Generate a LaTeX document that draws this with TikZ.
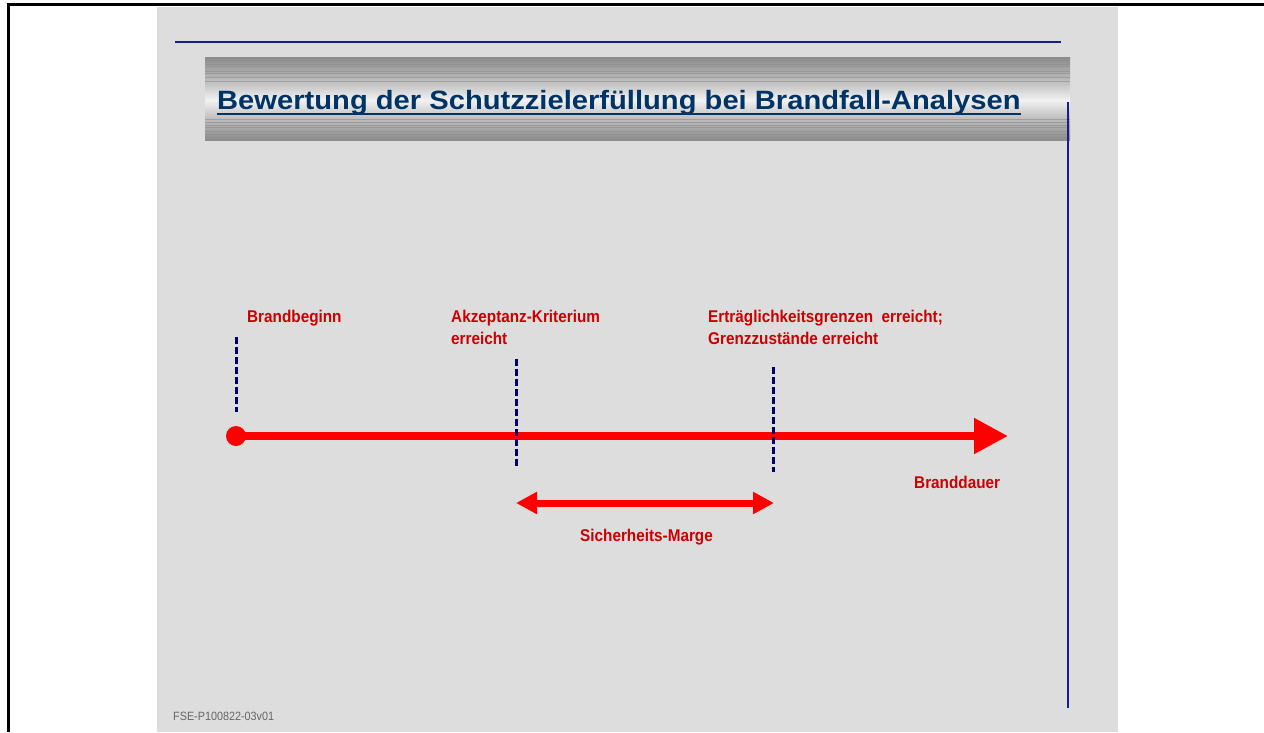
\documentclass[tikz,border=0pt]{standalone}
\usepackage{fontspec}
\setmainfont{Liberation Sans}
\newfontfamily\labelfont[FakeStretch=0.9]{Liberation Sans}
\newfontfamily\titlefont[FakeStretch=1.1]{Liberation Sans}
\usetikzlibrary{arrows.meta}
\definecolor{panelgray}{HTML}{DDDDDD}
\definecolor{bandgray}{HTML}{8C8C8C}
\definecolor{bandmid}{HTML}{C4C4C4}
\definecolor{bandlight}{HTML}{F2F2F2}
\definecolor{rulenavy}{HTML}{1C1C8C}
\definecolor{marknavy}{HTML}{000066}
\definecolor{titleblue}{HTML}{003366}
\definecolor{labelred}{HTML}{CC0000}
\definecolor{arrowred}{HTML}{FF0000}
\definecolor{codegray}{HTML}{666666}
\tikzset{
  lbl/.style={text=labelred, font=\labelfont\bfseries\fontsize{17}{22}\selectfont,
    anchor=base west, inner sep=0pt, align=left},
  marker/.style={draw=marknavy, line width=3pt, dash pattern=on 6.5pt off 3.5pt},
  rule/.style={draw=rulenavy, line width=1.5pt},
  bandline/.style={draw=bandgray, opacity=0.6, line width=1pt}
}
\begin{document}
\begin{tikzpicture}[x=1pt,y=-1pt]
\useasboundingbox (0,0) rectangle (1264,732);
%-------->page<--------------
\fill[panelgray] (157,7) rectangle (1118,732);
\draw[line width=3pt] (8,732) -- (8,4.5) -- (1264,4.5);
\draw[rule] (175,42) -- (1061,42);
%-------->title band<--------------
\shade[top color=bandgray, bottom color=bandmid] (205,57) rectangle (1070,84);
\shade[top color=bandmid, bottom color=bandlight] (205,84) rectangle (1070,100);
\shade[top color=bandlight, bottom color=bandmid] (205,100) rectangle (1070,116);
\shade[top color=bandmid, bottom color=bandgray] (205,116) rectangle (1070,140);
\foreach \y in {60,64,66.5,71,73,77,81} \draw[bandline] (205,\y) -- (1070,\y);
\foreach \y in {119,122,125,127.5,131,134,137} \draw[bandline] (205,\y) -- (1070,\y);
\draw[rule] (1068,102) -- (1068,708);
\node[anchor=base west, inner sep=0pt, text=titleblue,
  font=\titlefont\bfseries\fontsize{26.5}{30}\selectfont] (title) at (217,109)
  {Bewertung der Schutzzielerfüllung bei Brandfall-Analysen};
\draw[titleblue, line width=2.5pt] ([yshift=-5pt]title.base west) -- ([yshift=-5pt]title.base east);
%-------->labels<--------------
\node[lbl] (start) at (247,322) {Brandbeginn};
\node[lbl] (accept) at (451,344) {Akzeptanz-Kriterium\\erreicht};
\node[lbl] (limit) at (708,344) {Erträglichkeitsgrenzen\ \ erreicht;\\Grenzzustände erreicht};
\node[lbl] (duration) at (914,488) {Branddauer};
\node[lbl] (margin) at (580,541) {Sicherheits-Marge};
\node[anchor=base west, inner sep=0pt, text=codegray,
  font=\labelfont\fontsize{12}{14}\selectfont] (code) at (173,720) {FSE-P100822-03v01};
%-------->time axis<--------------
\coordinate (t0) at (236,436);
\coordinate (t1) at (1008,436);
\draw[arrowred, line width=8pt, -{Triangle[length=34pt,width=34pt]}] (t0) -- (t1);
\fill[arrowred] (t0) circle[radius=10pt];
%-------->margin arrow<--------------
\coordinate (m0) at (516,503);
\coordinate (m1) at (774,503);
\draw[arrowred, line width=7pt, {Triangle[length=21pt,width=21pt]}-{Triangle[length=21pt,width=21pt]}] (m0) -- (m1);
%-------->markers<--------------
\coordinate (s0) at (236,337); \coordinate (s1) at (236,412);
\coordinate (a0) at (516,359); \coordinate (a1) at (516,467);
\coordinate (l0) at (773,367); \coordinate (l1) at (773,472);
\draw[marker] (s0) -- (s1);
\draw[marker] (a0) -- (a1);
\draw[marker] (l0) -- (l1);
\end{tikzpicture}
\end{document}
